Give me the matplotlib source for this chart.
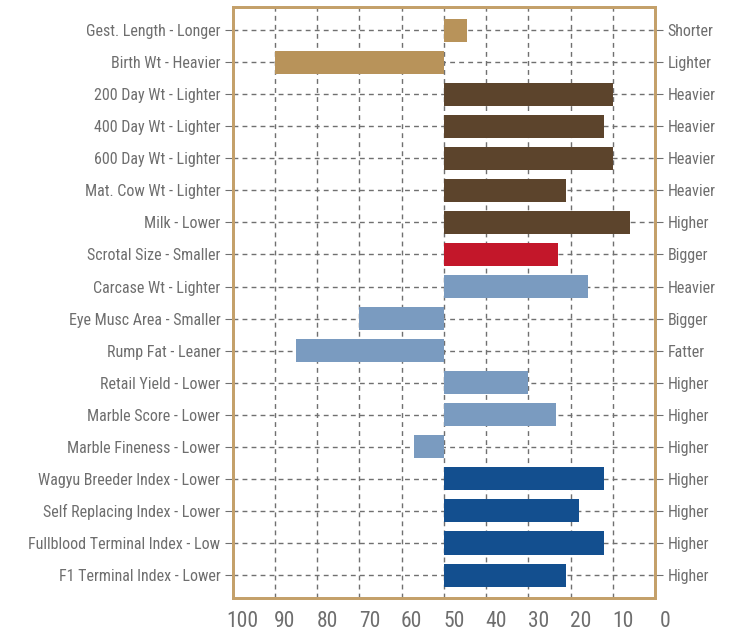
import matplotlib
matplotlib.use('Agg')
import matplotlib.pyplot as plt
import matplotlib.transforms as mtransforms

# traits, top to bottom
left_labels = ['Gest. Length - Longer', 'Birth Wt - Heavier', '200 Day Wt - Lighter',
               '400 Day Wt - Lighter', '600 Day Wt - Lighter', 'Mat. Cow Wt - Lighter',
               'Milk - Lower', 'Scrotal Size - Smaller', 'Carcase Wt - Lighter',
               'Eye Musc Area - Smaller', 'Rump Fat - Leaner', 'Retail Yield - Lower',
               'Marble Score - Lower', 'Marble Fineness - Lower', 'Wagyu Breeder Index - Lower',
               'Self Replacing Index - Lower', 'Fullblood Terminal Index - Low',
               'F1 Terminal Index - Lower']
right_labels = ['Shorter', 'Lighter', 'Heavier', 'Heavier', 'Heavier', 'Heavier', 'Higher',
                'Bigger', 'Heavier', 'Bigger', 'Fatter', 'Higher', 'Higher', 'Higher',
                'Higher', 'Higher', 'Higher', 'Higher']
# percentile rank (bars drawn from the 50 mid line)
values = [44.5, 90, 10, 12, 10, 21, 6, 23, 16, 70, 85, 30, 23.5, 57, 12, 18, 12, 21]
groups = ['calving', 'calving', 'growth', 'growth', 'growth', 'growth', 'growth',
          'fertility', 'carcase', 'carcase', 'carcase', 'carcase', 'carcase', 'carcase',
          'index', 'index', 'index', 'index']
group_colors = {'calving': '#B8935A', 'growth': '#5C442C', 'fertility': '#C3172A',
                'carcase': '#7A9BC0', 'index': '#134F8F'}
x_ticks = [100, 90, 80, 70, 60, 50, 40, 30, 20, 10, 0]
mid = 50

plt.rcParams['font.family'] = ['Roboto Condensed', 'Liberation Sans Narrow', 'Roboto', 'DejaVu Sans']

text_col = '#6E6E6E'
grid_col = '#707070'
frame_col = '#C4A06A'

fig = plt.figure(figsize=(7.32, 6.37), dpi=100)
ax = fig.add_axes([0.318, 0.061, 0.577, 0.928])

ypos = list(range(len(values)))
widths = [v - mid for v in values]
colors = [group_colors[g] for g in groups]
ax.barh(ypos, widths, left=mid, height=0.72, color=colors, zorder=3)

ax.set_xlim(100, 0)
ax.set_ylim(len(values) - 0.28, -0.72)

ax.set_xticks(x_ticks)
ax.set_xticklabels([str(t) for t in x_ticks], fontsize=15.5, color=text_col)
ax.set_xticks([mid], minor=True)
ax.tick_params(axis='x', which='major', length=0, pad=9)
ax.tick_params(axis='x', which='minor', length=8, color=grid_col, width=1)
shift = mtransforms.ScaledTranslation(10 / 100, 0, fig.dpi_scale_trans)
for lbl in ax.get_xticklabels():
    lbl.set_transform(lbl.get_transform() + shift)

ax.set_yticks(ypos)
ax.set_yticklabels(left_labels, fontsize=11.5, color=text_col)
ax.tick_params(axis='y', length=6, color=grid_col, pad=3)

ax2 = ax.twinx()
ax2.set_ylim(ax.get_ylim())
ax2.set_yticks(ypos)
ax2.set_yticklabels(right_labels, fontsize=11.5, color=text_col)
ax2.tick_params(axis='y', length=6, color=grid_col, pad=3)

ax.grid(True, which='major', linestyle=(0, (3.5, 3)), color=grid_col, linewidth=1, zorder=0)
ax.set_axisbelow(True)

for a in (ax, ax2):
    for sp in a.spines.values():
        sp.set_color(frame_col)
        sp.set_linewidth(2)

fig.savefig('out.png', dpi=100, facecolor='white')
